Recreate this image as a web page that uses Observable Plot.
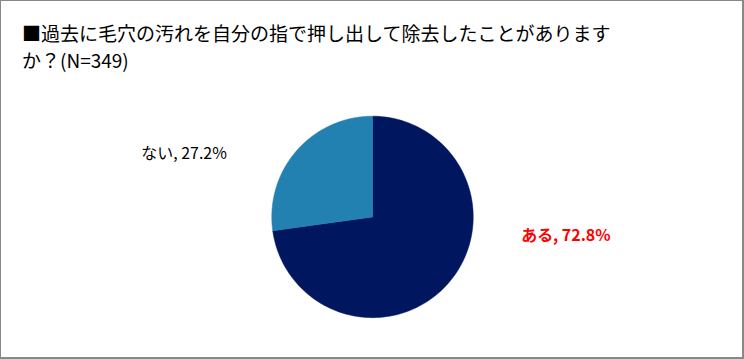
<!DOCTYPE html>
<html>
<head>
<meta charset="utf-8">
<script src="https://cdn.jsdelivr.net/npm/d3@7"></script>
<script src="https://cdn.jsdelivr.net/npm/@observablehq/plot@0.6"></script>
<style>
  html, body { margin: 0; padding: 0; background: #fff; }
  #wrap { position: relative; width: 744px; height: 359px; box-sizing: border-box;
          border-top: 1px solid #888; border-left: 1px solid #888;
          border-right: 2px solid #888; border-bottom: 2px solid #888; overflow: hidden; }
  #title { position: absolute; left: 21px; top: 18px; width: 640px;
           font-family: "Liberation Sans Narrow", "Noto Sans CJK JP", sans-serif;
           font-size: 19px; line-height: 27px; color: #000; }
  #chart { position: absolute; left: -1px; top: -1px; }
</style>
</head>
<body>
<div id="wrap">
  <div id="title">■過去に毛穴の汚れを自分の指で押し出して除去したことがあります<br>か？(N=349)</div>
  <div id="chart"></div>
</div>
<script>
// Data
const categories = ["ある", "ない"];
const values = [72.8, 27.2];
const sliceColors = ["#00175f", "#2381b2"];
const labelColors = ["#ff0000", "#000000"];
const labelWeights = ["bold", "normal"];
// label anchor positions in pie-radius units (layout)
const labelPos = [[1.92, -0.19], [-1.87, 0.63]];

// build slice polygons from pie angles
const pie = d3.pie().sort(null).value(d => d.value)(categories.map((c, i) => ({category: c, value: values[i]})));
const pts = [];
pie.forEach(s => {
  const n = 180;
  pts.push({category: s.data.category, x: 0, y: 0});
  for (let k = 0; k <= n; k++) {
    const a = s.startAngle + (s.endAngle - s.startAngle) * k / n;
    pts.push({category: s.data.category, x: Math.sin(a), y: Math.cos(a)});
  }
  pts.push({category: s.data.category, x: 0, y: 0});
});
const labels = categories.map((c, i) => ({
  text: `${c}, ${values[i].toFixed(1)}%`, x: labelPos[i][0], y: labelPos[i][1],
  fill: labelColors[i], weight: labelWeights[i]
}));

const cx = 373, cy = 217, r = 101;
const chart = Plot.plot({
  width: 744, height: 359,
  x: {domain: [-1, 1], range: [cx - r, cx + r], axis: null},
  y: {domain: [-1, 1], range: [cy + r, cy - r], axis: null},
  color: {domain: categories, range: sliceColors},
  style: {background: "transparent"},
  marks: [
    Plot.line(pts, {x: "x", y: "y", z: "category", fill: "category", stroke: "category", strokeWidth: 0.5, curve: "linear"}),
    Plot.text(labels.filter(d => d.weight === "bold"), {x: "x", y: "y", text: "text", fill: d => d.fill, fontSize: 16, fontWeight: "bold",
      fontFamily: "'Liberation Sans Narrow', 'Noto Sans CJK JP', sans-serif"}),
    Plot.text(labels.filter(d => d.weight !== "bold"), {x: "x", y: "y", text: "text", fill: d => d.fill, fontSize: 16,
      fontFamily: "'Liberation Sans Narrow', 'Noto Sans CJK JP', sans-serif"})
  ]
});
document.getElementById("chart").appendChild(chart);
</script>
</body>
</html>
